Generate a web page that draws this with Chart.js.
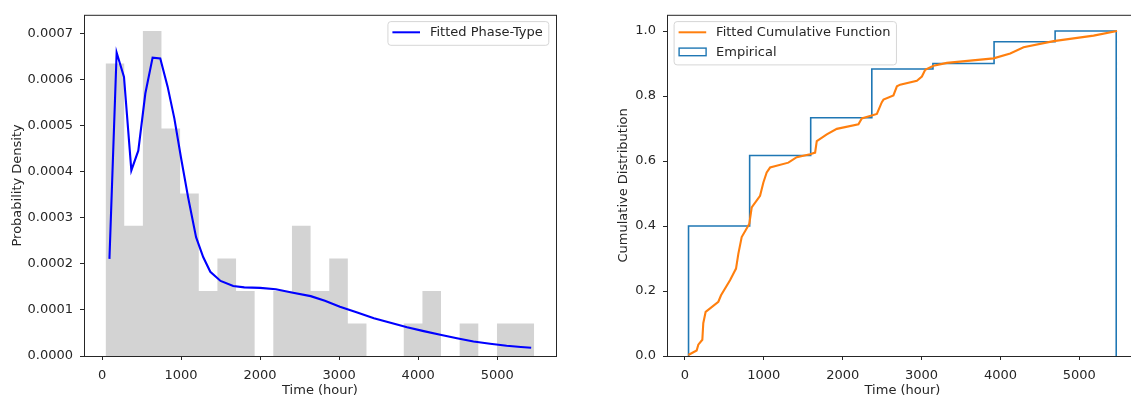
<!DOCTYPE html>
<html><head><meta charset="utf-8">
<script src="https://cdn.jsdelivr.net/npm/chart.js@4.4.0/dist/chart.umd.min.js"></script>
<style>
html,body{margin:0;padding:0;background:#fff;overflow:hidden;width:1131px;height:398px;position:relative;}
#wrapL{position:absolute;left:0;top:0;width:570px;height:398px;}
#wrapR{position:absolute;left:600px;top:0;width:550px;height:398px;}
canvas{display:block;}
</style></head><body>
<div id="wrapL"><canvas id="cL" width="570" height="398"></canvas></div>
<div id="wrapR"><canvas id="cR" width="550" height="398"></canvas></div>
<script>
// ---- data ----
const binEdges = [45, 281, 517, 752, 988, 1224, 1460, 1696, 1931, 2167, 2403, 2639, 2875, 3110, 3346, 3582, 3818, 4054, 4289, 4525, 4761, 4997, 5232, 5468];
const binDensity = [0.000635, 0.000283, 0.000706, 0.000494, 0.000353, 0.000141, 0.000212, 0.000141, 0, 0.000141, 0.000283, 0.000141, 0.000212, 0.0000707, 0, 0, 0.0000707, 0.000141, 0, 0.0000707, 0, 0.0000707, 0.0000707];
const pdfTime = [94, 185, 278, 371, 459, 548, 640, 737, 830, 915, 1000, 1090, 1190, 1280, 1370, 1500, 1660, 1800, 2000, 2200, 2400, 2640, 2820, 3010, 3220, 3440, 3650, 3860, 4070, 4280, 4490, 4700, 4910, 5120, 5300, 5430];
const pdfDensity = [0.000211, 0.000659, 0.000606, 0.000403, 0.000446, 0.000570, 0.000648, 0.000646, 0.000585, 0.000516, 0.000430, 0.000344, 0.000258, 0.000215, 0.000183, 0.000163, 0.000152, 0.000149, 0.000148, 0.000145, 0.000138, 0.000130, 0.000120, 0.000107, 0.000095, 0.000082, 0.000072, 0.0000625, 0.000054, 0.000046, 0.0000385, 0.0000315, 0.0000265, 0.0000222, 0.0000195, 0.0000178];
const ecdfEdges = [45, 820, 1594, 2369, 3144, 3919, 4693, 5468];
const ecdfValues = [0.400, 0.617, 0.733, 0.883, 0.900, 0.967, 1.000];
const cdfTime = [42, 148, 169, 220, 232, 262, 423, 457, 571, 647, 677, 719, 791, 816, 846, 952, 994, 1036, 1079, 1311, 1417, 1586, 1650, 1671, 1798, 1925, 2199, 2242, 2433, 2496, 2517, 2643, 2687, 2728, 2940, 3004, 3046, 3151, 3321, 3912, 4124, 4293, 4674, 5181, 5478];
const cdfValues = [0.003, 0.017, 0.035, 0.050, 0.101, 0.136, 0.167, 0.187, 0.233, 0.269, 0.315, 0.366, 0.396, 0.407, 0.457, 0.493, 0.534, 0.565, 0.580, 0.595, 0.612, 0.621, 0.626, 0.661, 0.682, 0.699, 0.713, 0.731, 0.745, 0.781, 0.789, 0.802, 0.830, 0.835, 0.847, 0.860, 0.881, 0.893, 0.902, 0.916, 0.931, 0.950, 0.969, 0.986, 1.000];
const xTicks = [0, 1000, 2000, 3000, 4000, 5000];
const yTicksPdf = [0, 0.0001, 0.0002, 0.0003, 0.0004, 0.0005, 0.0006, 0.0007];
const yTicksCdf = [0, 0.2, 0.4, 0.6, 0.8, 1.0];
const xLabel = 'Time (hour)';
const yLabelPdf = 'Probability Density';
const yLabelCdf = 'Cumulative Distribution';

const FONT = "'DejaVu Sans', 'Liberation Sans', sans-serif";
const FS = 13;
const INK = '#262626';

const framePlugin = {
  id: 'frameLegend',
  afterDatasetsDraw(chart, args, opts) {
    const ctx = chart.ctx, a = chart.chartArea;
    ctx.save();
    ctx.strokeStyle = INK; ctx.lineWidth = 1;
    ctx.strokeRect(a.left + 0.5, a.top + 0.5, a.right - a.left, a.bottom - a.top);
    const items = opts.items || [];
    if (items.length) {
      ctx.font = FS + 'px ' + FONT;
      let maxW = 0;
      items.forEach(it => { maxW = Math.max(maxW, ctx.measureText(it.text).width); });
      const w = 42.5 + maxW + 5.5;
      const h = 23.7 + (items.length - 1) * 19.6;
      const top = a.top + 6.3;
      const left = opts.align === 'right' ? a.right - 7.7 - w : a.left + 6.6;
      ctx.beginPath();
      if (ctx.roundRect) ctx.roundRect(left + 0.5, top + 0.5, w, h, 3); else ctx.rect(left + 0.5, top + 0.5, w, h);
      ctx.fillStyle = 'rgba(255,255,255,0.85)';
      ctx.fill();
      ctx.strokeStyle = '#d6d6d6'; ctx.lineWidth = 1;
      ctx.stroke();
      items.forEach((it, i) => {
        const cy = top + 11.2 + i * 19.6;
        if (it.kind === 'line') {
          ctx.strokeStyle = it.color; ctx.lineWidth = 2;
          ctx.beginPath(); ctx.moveTo(left + 5, cy); ctx.lineTo(left + 32.6, cy); ctx.stroke();
        } else {
          ctx.strokeStyle = it.color; ctx.lineWidth = 1.4;
          ctx.strokeRect(left + 5.5, cy - 3.8, 27, 7.6);
        }
        ctx.fillStyle = INK;
        ctx.textBaseline = 'middle';
        ctx.textAlign = 'left';
        ctx.fillText(it.text, left + 42.5, cy + 0.5);
      });
    }
    ctx.restore();
  }
};

function axisX(min, max) {
  return {
    type: 'linear', min: min, max: max,
    afterBuildTicks: s => { s.ticks = xTicks.map(v => ({ value: v })); },
    afterFit: s => { s.height = 42; },
    grid: { display: true, drawOnChartArea: false, drawTicks: true, tickLength: 4, tickColor: INK, tickWidth: 1 },
    border: { display: false },
    ticks: { color: INK, font: { family: FONT, size: FS }, padding: 8, maxRotation: 0, callback: v => String(v) },
    title: { display: true, text: xLabel, color: INK, font: { family: FONT, size: FS }, padding: { top: 0, bottom: 0 } }
  };
}
function axisY(min, max, ticksArr, fmt, width, label, tpad) {
  return {
    type: 'linear', min: min, max: max,
    afterBuildTicks: s => { s.ticks = ticksArr.map(v => ({ value: v })); },
    afterFit: s => { s.width = width; },
    grid: { display: true, drawOnChartArea: false, drawTicks: true, tickLength: 4, tickColor: INK, tickWidth: 1 },
    border: { display: false },
    ticks: { color: INK, font: { family: FONT, size: FS }, padding: 7, callback: v => fmt(v) },
    title: { display: true, text: label, color: INK, font: { family: FONT, size: FS }, padding: { top: tpad, bottom: 0 } }
  };
}

const common = {
  responsive: false, animation: false, events: [],
  plugins: { legend: { display: false }, tooltip: { enabled: false } }
};

// ---- left: histogram + fitted PDF ----
const histPts = binEdges.map((e, i) => ({ x: e, y: binDensity[Math.min(i, binDensity.length - 1)] }));
const pdfPts = pdfTime.map((t, i) => ({ x: t, y: pdfDensity[i] }));
new Chart(document.getElementById('cL'), {
  type: 'line',
  data: { datasets: [
    { label: 'hist', data: histPts, stepped: true, fill: 'origin', backgroundColor: '#d3d3d3', borderColor: 'rgba(0,0,0,0)', borderWidth: 0.001, pointRadius: 0, order: 2 },
    { label: 'Fitted Phase-Type', data: pdfPts, borderColor: '#0000ff', borderWidth: 2.1, pointRadius: 0, fill: false, tension: 0, order: 1 }
  ] },
  options: Object.assign({}, common, {
    layout: { autoPadding: false, padding: { left: 0, top: 13, right: 14, bottom: 0 } },
    scales: {
      x: axisX(-228, 5744),
      y: axisY(0, 0.000741, yTicksPdf, v => v.toFixed(4), 84, yLabelPdf, 9.5)
    },
    plugins: Object.assign({}, common.plugins, { frameLegend: { align: 'right', items: [{ kind: 'line', color: '#0000ff', text: 'Fitted Phase-Type' }] } })
  }),
  plugins: [framePlugin]
});

// ---- right: empirical cumulative + fitted CDF ----
const ecdfPts = [{ x: ecdfEdges[0], y: 0 }]
  .concat(ecdfValues.map((v, i) => ({ x: ecdfEdges[i], y: v })))
  .concat([{ x: ecdfEdges[ecdfEdges.length - 1], y: ecdfValues[ecdfValues.length - 1] }, { x: ecdfEdges[ecdfEdges.length - 1], y: 0 }]);
const cdfPts = cdfTime.map((t, i) => ({ x: t, y: cdfValues[i] }));
new Chart(document.getElementById('cR'), {
  type: 'line',
  data: { datasets: [
    { label: 'Empirical', data: ecdfPts, stepped: true, fill: false, borderColor: '#1f77b4', borderWidth: 1.6, pointRadius: 0, order: 2 },
    { label: 'Fitted Cumulative Function', data: cdfPts, borderColor: '#ff7f0e', borderWidth: 2.1, pointRadius: 0, fill: false, tension: 0, order: 1 }
  ] },
  options: Object.assign({}, common, {
    layout: { autoPadding: false, padding: { left: 0, top: 13, right: 12, bottom: 0 } },
    scales: {
      x: axisX(-228, 5744),
      y: axisY(0, 1.05, yTicksCdf, v => v.toFixed(1), 67, yLabelCdf, 15.5)
    },
    plugins: Object.assign({}, common.plugins, { frameLegend: { align: 'left', items: [
      { kind: 'line', color: '#ff7f0e', text: 'Fitted Cumulative Function' },
      { kind: 'rect', color: '#1f77b4', text: 'Empirical' }
    ] } })
  }),
  plugins: [framePlugin]
});
</script>
</body></html>
